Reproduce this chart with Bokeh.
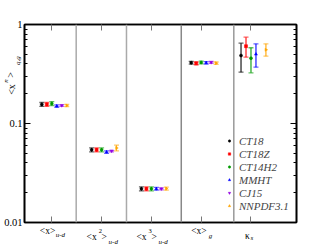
import math
from bokeh.plotting import figure
from bokeh.layouts import row, column
from bokeh.models import (ColumnDataSource, Whisker, TeeHead, Span, Legend, LegendItem,
                          FixedTicker, LinearAxis, LogAxis, Range1d)
from bokeh.core.properties import value, field
from bokeh.embed import file_html
from bokeh.resources import INLINE

# ---------------- data ----------------
categories = [1, 2, 3, 4, 5]
cat_main = ["<x>", "<x", "<x", "<x>", "κ"]
cat_sup = ["", "2", "3", "", ""]
cat_close = ["", ">", ">", "", ""]
cat_sub = ["u-d", "u-d", "u-d", "g", "s"]

series = ["CT18", "CT18Z", "CT14H2", "MMHT", "CJ15", "NNPDF3.1"]
nan = float("nan")

ct18_val = [0.156, 0.0542, 0.0219, 0.411, 0.486]
ct18_lo = [0.149, 0.0518, 0.0209, 0.397, 0.330]
ct18_hi = [0.163, 0.0566, 0.0229, 0.425, 0.647]

ct18z_val = [0.156, 0.0542, 0.0219, 0.405, 0.604]
ct18z_lo = [0.149, 0.0518, 0.0209, 0.392, 0.468]
ct18z_hi = [0.163, 0.0566, 0.0229, 0.418, 0.745]

ct14_val = [0.159, 0.0542, 0.0219, 0.414, 0.457]
ct14_lo = [0.152, 0.0518, 0.0209, 0.401, 0.325]
ct14_hi = [0.166, 0.0566, 0.0229, 0.427, 0.582]

mmht_val = [0.150, 0.0515, 0.0219, 0.410, 0.501]
mmht_lo = [0.146, 0.0500, 0.0212, 0.398, 0.371]
mmht_hi = [0.154, 0.0530, 0.0226, 0.422, 0.638]

cj15_val = [0.152, 0.0527, 0.0219, 0.414, nan]
cj15_lo = [0.149, 0.0518, 0.0214, 0.405, nan]
cj15_hi = [0.155, 0.0536, 0.0224, 0.423, nan]

nnpdf_val = [0.152, 0.0566, 0.0220, 0.407, 0.555]
nnpdf_lo = [0.148, 0.0530, 0.0212, 0.396, 0.479]
nnpdf_hi = [0.156, 0.0604, 0.0228, 0.418, 0.638]

values = [ct18_val, ct18z_val, ct14_val, mmht_val, cj15_val, nnpdf_val]
lows = [ct18_lo, ct18z_lo, ct14_lo, mmht_lo, cj15_lo, nnpdf_lo]
highs = [ct18_hi, ct18z_hi, ct14_hi, mmht_hi, cj15_hi, nnpdf_hi]

y_major = [0.01, 0.1, 1.0]
y_major_labels = ["0.01", "0.1", "1"]

# ---------------- style / geometry ----------------
SERIF = "Liberation Serif"
colors = ["#000000", "#ff0000", "#009a00", "#0000ff", "#9000e0", "#ffa500"]
markers = ["circle", "square", "circle", "triangle", "inverted_triangle", "triangle"]
angles = [0, 0, 0, 0, 0, -math.pi / 2]
offsets = [(i - 2) * 0.1 for i in range(len(series))]

X0, X1 = 0.452, 5.914
Y0, Y1 = 0.01, 1.0
LEFT_W = 22                  # width of the y-title strip
FL, FR, FT, FB = 24.0, 296.0, 24.0, 222.0   # frame edges (page px)
MAIN_BL, MAIN_BR, MAIN_BB = 2, 12, 2
MAIN_W = int(MAIN_BL + (FR - FL) + MAIN_BR)
MAIN_H = int(FT + (FB - FT) + MAIN_BB)
BOT_H = 20
PXU = (FR - FL) / (X1 - X0)
DEC = (FB - FT) / 2.0

def yp(py):
    return 10 ** (math.log10(Y0) + (FB - py) / DEC)

def bare(fig):
    fig.xgrid.visible = False
    fig.ygrid.visible = False
    fig.outline_line_color = None
    fig.background_fill_color = "white"
    fig.border_fill_color = "white"
    for ax in fig.axis:
        ax.visible = False

# ---------------- main figure ----------------
p = figure(width=MAIN_W, height=MAIN_H, y_axis_type="log", x_range=(X0, X1), y_range=(Y0, Y1),
           output_backend="svg", toolbar_location=None,
           min_border_left=MAIN_BL, min_border_right=MAIN_BR, min_border_top=int(FT),
           min_border_bottom=MAIN_BB)
p.background_fill_color = "white"
p.border_fill_color = "white"
p.outline_line_color = "black"
p.outline_line_width = 1.6
p.xgrid.visible = False
p.ygrid.visible = False

minor = [m * d for d in (0.01, 0.1) for m in range(2, 10)]
yt = FixedTicker(ticks=y_major, minor_ticks=minor)
xt = FixedTicker(ticks=categories, minor_ticks=[])

def style_axis(ax):
    ax.major_tick_in = 6
    ax.major_tick_out = 0
    ax.minor_tick_in = 3
    ax.minor_tick_out = 0
    ax.axis_line_color = "black"
    ax.axis_line_width = 1.6
    ax.major_tick_line_color = "black"
    ax.minor_tick_line_color = "black"
    ax.major_label_text_font_size = "1px"
    ax.major_label_text_color = None
    ax.major_label_standoff = 0

p.yaxis.ticker = yt
p.xaxis.ticker = xt
for ax in p.xaxis + p.yaxis:
    style_axis(ax)
for ax in p.xaxis:
    ax.major_tick_line_color = "#777777"

top = LinearAxis(ticker=xt)
style_axis(top)
top.major_tick_line_color = "#777777"
p.add_layout(top, "above")
right = LogAxis(ticker=yt)
style_axis(right)
p.add_layout(right, "right")

for sx, sc in zip([1.49, 2.5, 3.6, 4.655], ["#aaaaaa", "#aaaaaa", "#888888", "#999999"]):
    p.add_layout(Span(location=sx, dimension="height", line_color=sc, line_width=1.5))

legend_items = []
for i, name in enumerate(series):
    xs, ys, lo, hi = [], [], [], []
    for c, v, l, h in zip(categories, values[i], lows[i], highs[i]):
        if not math.isnan(v):
            xs.append(c + offsets[i]); ys.append(v); lo.append(l); hi.append(h)
    src = ColumnDataSource(dict(x=xs, y=ys, lo=lo, hi=hi))
    w = Whisker(source=src, base="x", lower="lo", upper="hi", dimension="height",
                line_color=colors[i], line_width=1.2, line_alpha=0.9,
                lower_head=TeeHead(size=5, line_color=colors[i], line_width=1.3, line_alpha=0.6),
                upper_head=TeeHead(size=5, line_color=colors[i], line_width=1.3, line_alpha=0.6))
    p.add_layout(w)
    r = p.scatter("x", "y", source=src, marker=markers[i], size=3, angle=angles[i],
                  fill_color=colors[i], line_color=colors[i], line_width=0.5)
    legend_items.append(LegendItem(label=name, renderers=[r]))

legend = Legend(items=legend_items, location=(202, 10), padding=0, margin=0, spacing=0,
                glyph_width=6, glyph_height=13, label_height=13, label_standoff=7,
                label_text_font=SERIF, label_text_font_style="italic",
                label_text_font_size="11px", background_fill_alpha=0, border_line_alpha=0)
p.add_layout(legend, "center")

# ---------------- left strip: y tick labels + y title ----------------
H_ALL = MAIN_H + BOT_H
lf = figure(width=LEFT_W, height=H_ALL, x_range=Range1d(0, LEFT_W),
            y_range=Range1d(yp(H_ALL), yp(0)), y_axis_type="log",
            output_backend="svg", toolbar_location=None, min_border=0)
bare(lf)
lf.text(x=[LEFT_W] * len(y_major), y=y_major, text=y_major_labels,
        text_font=value(SERIF), text_font_size="10.5px", text_align="right",
        text_baseline="middle", text_color="black")
A = math.pi / 2
ysrc = ColumnDataSource(dict(
    x=[10.5, 5.0, 10.0, 17.5],
    y=[yp(89), yp(80.5), yp(74.5), yp(60)],
    text=["<x", "n", ">", "q,g"],
    size=["10px", "7px", "10px", "7px"],
    style=["normal", "italic", "normal", "italic"],
))
lf.text(x="x", y="y", text="text", source=ysrc, angle=A, text_font=value(SERIF),
        text_font_size=field("size"), text_font_style=field("style"),
        text_align="center", text_baseline="middle", text_color="black")

# ---------------- bottom strip: category labels ----------------
bf = figure(width=MAIN_W, height=BOT_H, x_range=Range1d(X0, X1),
            y_range=Range1d(MAIN_H + BOT_H, MAIN_H),
            output_backend="svg", toolbar_location=None,
            min_border_left=MAIN_BL, min_border_right=MAIN_BR, min_border_top=0,
            min_border_bottom=0)
bare(bf)
bx, by, bt, bs, bst = [], [], [], [], []
def put(c, dx, y, t, s, st):
    if t:
        bx.append(c + dx / PXU); by.append(y); bt.append(t); bs.append(s); bst.append(st)
for k, c in enumerate(categories):
    closed = cat_close[k] != ""
    if not closed and cat_sub[k] == "s":
        put(c, -6, 235.5, cat_main[k], "9.5px", "normal")
        put(c, -0.5, 237, cat_sub[k], "7px", "italic")
    elif not closed:
        dx0 = -12 if k == 0 else -10
        put(c, dx0, 230.5, cat_main[k], "9.5px", "normal")
        put(c, dx0 + 16 if k == 0 else dx0 + 17.5, 234.5 if k == 0 else 235.5,
            cat_sub[k], "7px", "italic")
    else:
        put(c, -15, 236, cat_main[k], "9.5px", "normal")
        put(c, -2.8, 230.5, cat_sup[k], "6.5px", "normal")
        put(c, 0, 236, cat_close[k], "9.5px", "normal")
        put(c, 7, 241, cat_sub[k], "7px", "italic")
bsrc = ColumnDataSource(dict(x=bx, y=by, text=bt, size=bs, style=bst))
bf.text(x="x", y="y", text="text", source=bsrc, text_font=value(SERIF),
        text_font_size=field("size"), text_font_style=field("style"),
        text_align="left", text_baseline="alphabetic", text_color="black")

layout = row(lf, column(p, bf, spacing=0), spacing=0)
open("out.html", "w").write(file_html(layout, INLINE))
